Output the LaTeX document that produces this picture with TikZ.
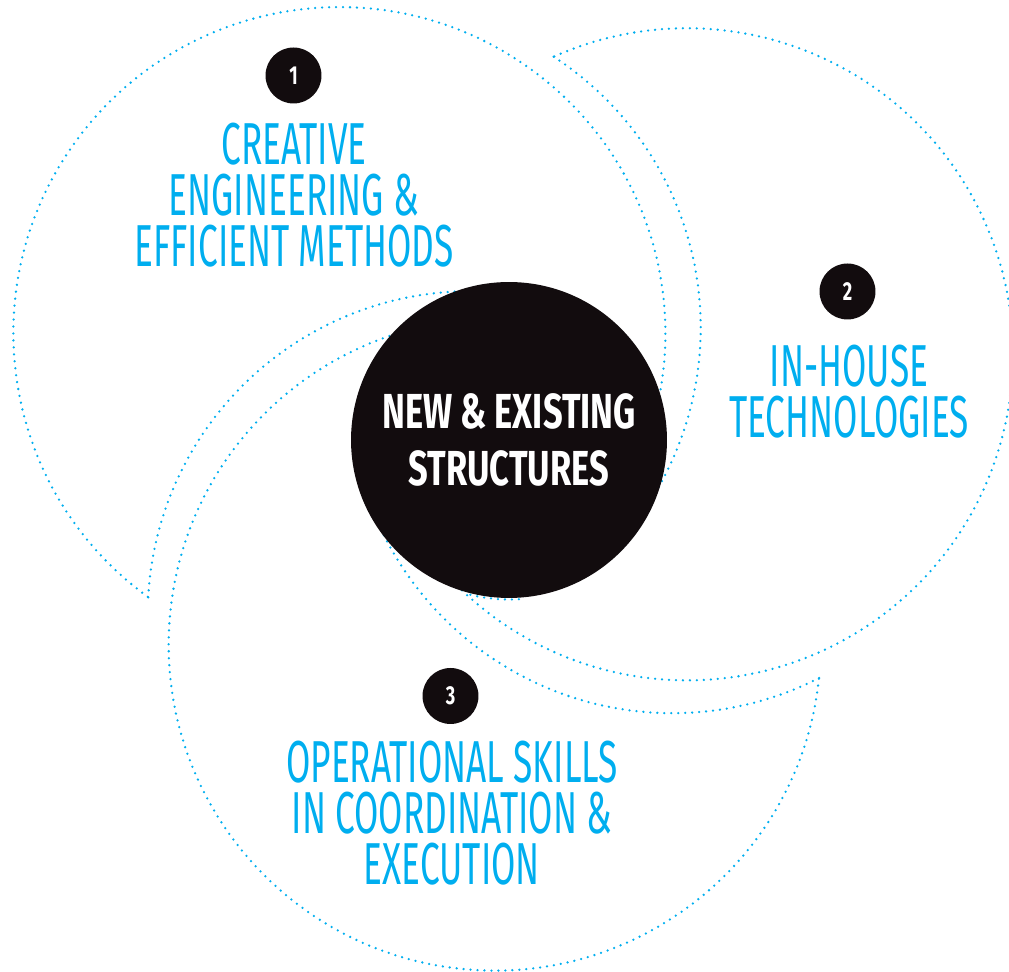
\documentclass[tikz,border=0pt]{standalone}
\usepackage{fontspec}
\newfontfamily\labelfont[FakeStretch=0.595]{Fira Sans}
\newfontfamily\hubfont[FakeStretch=0.70]{Fira Sans}
\definecolor{ink}{RGB}{18,12,14}
\definecolor{sky}{RGB}{0,174,239}
\tikzset{
  dotarc/.style={draw=sky, line width=1.45pt, line cap=round, dash pattern=on 0pt off 3.97pt},
  numdisc/.style={circle, fill=ink, text=white, minimum size=1.12cm, inner sep=0pt,
    font=\hubfont\bfseries\fontsize{14.8pt}{16pt}\selectfont},
  skilltext/.style={text=sky, align=center, anchor=north, inner sep=0pt,
    font=\labelfont\fontsize{33.7pt}{28.9pt}\selectfont}
}

\begin{document}
\begin{tikzpicture}[x=0.02cm, y=-0.02cm]
\path[use as bounding box, clip] (0,0) rectangle (1009,972);
% the three rings and their tails
\coordinate (c1) at (339.4,333.1);
\coordinate (c2) at (686.9,354.3);
\coordinate (c3) at (494.7,644.6);
\coordinate (t1) at (470.8,614.2);
\coordinate (t2) at (377.7,327.6);
\coordinate (t3) at (672.5,390.2);
\draw[dotarc] (c1) ++(126:326) arc[start angle=126, end angle=395, radius=326];
\draw[dotarc] (c2) ++(246:326) arc[start angle=246, end angle=515, radius=326];
\draw[dotarc] (c3) ++(6:326) arc[start angle=6, end angle=275, radius=326];
\draw[dotarc] (t1) ++(183:323) arc[start angle=183, end angle=285, radius=323];
\draw[dotarc] (t2) ++(303:323) arc[start angle=303, end angle=405, radius=323];
\draw[dotarc] (t3) ++(63:323) arc[start angle=63, end angle=165, radius=323];
\draw[dotarc] (509,440) ++(104:159.5) arc[start angle=104, end angle=85, radius=159.5];

\node[circle, fill=ink, minimum size=6.32cm, inner sep=0pt, text=white, align=center,
  font=\hubfont\bfseries\fontsize{28pt}{32.9pt}\selectfont] (hub) at (509,440)
  {NEW \& EXISTING\\STRUCTURES};

\node[numdisc] (n1) at (293.5,75.5) {1};
\node[numdisc] (n2) at (847.5,291.5) {2};
\node[numdisc] (n3) at (450.5,696) {3};

\node[skilltext] (s1) at (294,123) {CREATIVE\\ENGINEERING \&\\EFFICIENT METHODS};
\node[skilltext] (s2) at (849,345) {IN-HOUSE\\TECHNOLOGIES};
\node[skilltext] (s3) at (452,741) {OPERATIONAL SKILLS\\IN COORDINATION \&\\EXECUTION};
\end{tikzpicture}
\end{document}
